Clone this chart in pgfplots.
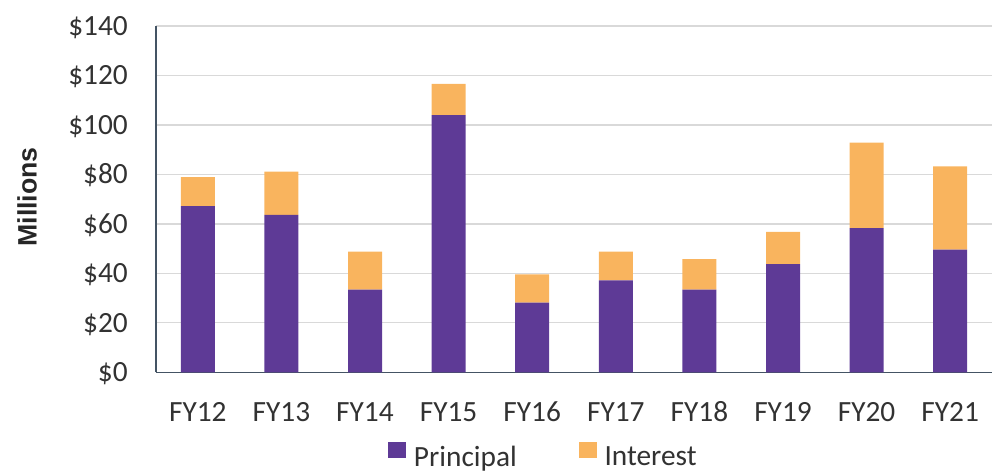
\documentclass[border=0pt]{standalone}
\usepackage{pgfplots}
\pgfplotsset{compat=1.18}
\usepackage{pgfplotstable}
\usepackage{fontspec}
\setmainfont{Carlito}
\newfontfamily\labelfont{Liberation Sans}

\definecolor{princ}{RGB}{94,58,150}
\definecolor{inter}{RGB}{249,180,94}
\definecolor{gridc}{RGB}{217,217,217}
\definecolor{axc}{RGB}{68,84,100}
\definecolor{txt}{RGB}{50,50,50}

% debt service, $ millions
\pgfplotstableread{
x principal interest
0 67.2 11.7
1 63.7 17.4
2 33.4 15.4
3 104.0 12.6
4 28.2 11.4
5 37.2 11.6
6 33.4 12.4
7 43.7 13.1
8 58.3 34.6
9 49.6 33.7
}\debtdata

\begin{document}
\begin{tikzpicture}
\path[use as bounding box] (0,0) rectangle (747.75pt,356.25pt);
\begin{axis}[
    at={(117pt,77pt)}, anchor=south west,
    scale only axis,
    width=627pt, height=259.7pt,
    ybar stacked,
    bar width=25.5pt,
    xmin=-0.5, xmax=9.5,
    ymin=0, ymax=140,
    xtick={0,...,9},
    xticklabels={FY12,FY13,FY14,FY15,FY16,FY17,FY18,FY19,FY20,FY21},
    ytick={0,20,...,140},
    yticklabel={\$\pgfmathprintnumber{\tick}},
    /pgf/number format/assume math mode=true,
    ymajorgrids,
    grid style={gridc, line width=0.9pt},
    axis x line*=bottom,
    axis y line*=left,
    axis line style={axc, line width=1.1pt, -},
    major tick length=0pt,
    tick label style={font=\fontsize{22}{26}\selectfont, text=txt},
    xticklabel style={anchor=base, yshift=-36.6pt},
    yticklabel style={anchor=base east, inner sep=0pt, xshift=-21pt, yshift=-6.9pt},
    legend columns=2,
    legend style={at={(0.2775,-0.24)}, anchor=west, draw=none, inner sep=0pt,
        nodes={inner sep=0pt}, column sep=5.8pt,
        /tikz/column 2/.append style={column sep=46.5pt},
        font=\fontsize{22}{26}\selectfont, text=txt},
    legend image code/.code={\fill[#1] (0pt,-0.5pt) rectangle (13.5pt,11.5pt);},
]
\addplot[fill=princ, draw=none] table[x=x, y=principal] {\debtdata};
\addlegendentry{Principal}
\addplot[fill=inter, draw=none] table[x=x, y=interest] {\debtdata};
\addlegendentry{Interest}
\end{axis}
\node[rotate=90, font=\labelfont\bfseries\fontsize{20}{24}\selectfont, text=black!85] at (20.25pt,208.5pt) {Millions};
\end{tikzpicture}
\end{document}
